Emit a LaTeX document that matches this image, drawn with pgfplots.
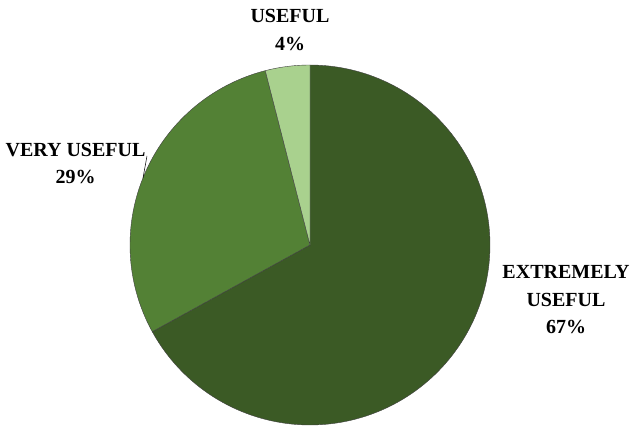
\documentclass[border=0pt]{standalone}
\usepackage{pgfplots}
\pgfplotsset{compat=1.18}
\usepackage{fontspec}
\setmainfont{Liberation Serif}
\definecolor{cExt}{HTML}{3B5A25}
\definecolor{cVery}{HTML}{538135}
\definecolor{cUse}{HTML}{A9D18E}
\begin{document}
\begin{tikzpicture}
% shares in percent
\pgfmathsetmacro{\pA}{67}% EXTREMELY USEFUL
\pgfmathsetmacro{\pB}{29}% VERY USEFUL
\pgfmathsetmacro{\pC}{4}%  USEFUL
\pgfmathsetmacro{\aO}{90}
\pgfmathsetmacro{\aA}{\aO-3.6*\pA}
\pgfmathsetmacro{\aB}{\aA-3.6*\pB}
\pgfmathsetmacro{\aC}{\aB-3.6*\pC}
\begin{axis}[scale only axis, width=631pt, height=428pt, at={(0,0)}, anchor=south west,
  xmin=0, xmax=631, ymin=0, ymax=428, axis lines=none, clip=false]
\addplot[fill=cExt, draw=black!75, line width=0.4pt, domain=\aA:\aO, samples=150]
  ({310+180*cos(x)},{183+180*sin(x)}) -- (axis cs:310,183) -- cycle;
\addplot[fill=cVery, draw=black!75, line width=0.4pt, domain=\aB:\aA, samples=80]
  ({310+180*cos(x)},{183+180*sin(x)}) -- (axis cs:310,183) -- cycle;
\addplot[fill=cUse, draw=black!75, line width=0.4pt, domain=\aC:\aB, samples=20]
  ({310+180*cos(x)},{183+180*sin(x)}) -- (axis cs:310,183) -- cycle;
\draw[black, line width=0.5pt] (axis cs:147,272) -- (axis cs:143,250);
\begin{scope}[every node/.style={font=\bfseries\fontsize{20}{27.5}\selectfont, align=center, inner sep=0pt}]
\node at (axis cs:290,398) {USEFUL\\4\%};
\node at (axis cs:75.5,264.5) {VERY USEFUL\\29\%};
\node at (axis cs:566,128) {EXTREMELY\\USEFUL\\67\%};
\end{scope}
\end{axis}
\pgfresetboundingbox
\path[use as bounding box] (0,0) rectangle (631pt,428pt);
\end{tikzpicture}
\end{document}
